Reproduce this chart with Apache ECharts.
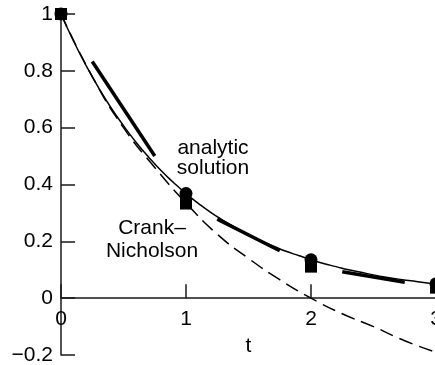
<!DOCTYPE html>
<html>
<head>
<meta charset="utf-8">
<script src="https://cdn.jsdelivr.net/npm/echarts@6/dist/echarts.min.js"></script>
<style>
  html, body { margin: 0; padding: 0; background: #fff; }
  #chart { width: 435px; height: 365px; }
</style>
</head>
<body>
<div id="chart"></div>
<script>
// Analytic solution y = e^-t, sampled along t
var analyticT = [0, 0.1, 0.2, 0.3, 0.4, 0.5, 0.6, 0.7, 0.8, 0.9, 1.0, 1.1, 1.2, 1.3, 1.4, 1.5,
                 1.6, 1.7, 1.8, 1.9, 2.0, 2.1, 2.2, 2.3, 2.4, 2.5, 2.6, 2.7, 2.8, 2.9, 3.0];
var analyticY = [1, 0.905, 0.819, 0.741, 0.670, 0.607, 0.549, 0.497, 0.449, 0.407, 0.368, 0.333,
                 0.301, 0.273, 0.247, 0.223, 0.202, 0.183, 0.165, 0.150, 0.135, 0.122, 0.111,
                 0.100, 0.091, 0.082, 0.074, 0.067, 0.061, 0.055, 0.050];

// Dashed comparison curve
var dashedT = [0, 0.25, 0.5, 0.75, 1.0, 1.25, 1.5, 1.75, 2.0, 2.25, 2.5, 2.75, 3.0];
var dashedY = [1, 0.78, 0.60, 0.46, 0.335, 0.225, 0.14, 0.065, 0, -0.055, -0.10, -0.15, -0.19];

// Step points
var stepT = [0, 1, 2, 3];
var analyticPts = [1, 0.368, 0.135, 0.050];
var crankPts = [1, 0.333, 0.111, 0.037];

// Crank–Nicholson slope segments (start t, start y, end t, end y)
var segStartT = [0.25, 1.25, 2.25];
var segStartY = [0.833, 0.278, 0.093];
var segEndT = [0.75, 1.75, 2.75];
var segEndY = [0.5, 0.167, 0.056];

// Axis ticks
var xTicks = [0, 1, 2, 3];
var yTicks = [-0.2, 0, 0.2, 0.4, 0.6, 0.8, 1];

var FONT = 'Liberation Sans, Arial, Helvetica, sans-serif';
var INK = '#000';
var AXIS = '#1a1a1a';

var GRID_TOP = 14, GRID_H = 341;
var yMin = yTicks[0], yMax = yTicks[yTicks.length - 1];
// lift the t axis from the grid bottom up to y = 0
var xAxisOffset = -GRID_H * (0 - yMin) / (yMax - yMin);

function zip(a, b) {
  return a.map(function (v, i) { return [v, b[i]]; });
}

var series = [
  {
    type: 'line', data: zip(analyticT, analyticY), smooth: true, symbol: 'none',
    lineStyle: { color: INK, width: 1.5 }, z: 3
  },
  {
    type: 'line', data: zip(dashedT, dashedY), smooth: true, symbol: 'none',
    lineStyle: { color: INK, width: 1.5, type: [14, 7] }, z: 3
  }
];

segStartT.forEach(function (t0, i) {
  series.push({
    type: 'line', symbol: 'none',
    data: [[t0, segStartY[i]], [segEndT[i], segEndY[i]]],
    lineStyle: { color: INK, width: 3.5 }, z: 4
  });
});

series.push({
  type: 'scatter', data: zip(stepT, analyticPts), symbol: 'circle', symbolSize: 13,
  itemStyle: { color: INK, opacity: 1 }, z: 5, clip: false
});
series.push({
  type: 'scatter', data: zip(stepT, crankPts), symbol: 'rect', symbolSize: 12,
  itemStyle: { color: INK, opacity: 1 }, z: 6, clip: false
});

var chart = echarts.init(document.getElementById('chart'), null, { renderer: 'canvas' });
chart.setOption({
  animation: false,
  backgroundColor: '#fff',
  grid: { left: 61, top: GRID_TOP, width: 375, height: GRID_H, containLabel: false, outerBoundsMode: 'none' },
  xAxis: {
    type: 'value', min: xTicks[0], max: xTicks[xTicks.length - 1], interval: 1,
    position: 'bottom', offset: xAxisOffset,
    name: 't', nameLocation: 'middle', nameGap: 38,
    nameTextStyle: { color: INK, fontSize: 21, fontFamily: FONT },
    axisLine: { onZero: false, lineStyle: { color: AXIS, width: 1.5 } },
    axisTick: { inside: true, length: 14, lineStyle: { color: AXIS, width: 1.5 } },
    axisLabel: { color: INK, fontSize: 21, fontFamily: FONT, margin: 11, showMaxLabel: true },
    splitLine: { show: false }
  },
  yAxis: {
    type: 'value', min: yMin, max: yMax, interval: 0.2,
    axisLine: { show: true, onZero: false, lineStyle: { color: AXIS, width: 1.5 } },
    axisTick: { show: true, inside: true, length: 14, lineStyle: { color: AXIS, width: 1.5 } },
    axisLabel: {
      color: INK, fontSize: 21, fontFamily: FONT, margin: 8,
      formatter: function (v) {
        var r = +v.toFixed(1);
        return r < 0 ? '\u2212' + Math.abs(r) : String(r);
      }
    },
    splitLine: { show: false }
  },
  graphic: [
    {
      type: 'text', x: 213, y: 158,
      style: {
        text: 'analytic\nsolution', fill: INK, font: '21px ' + FONT,
        textAlign: 'center', textVerticalAlign: 'middle', lineHeight: 20
      }, z: 10
    },
    {
      type: 'text', x: 152, y: 240,
      style: {
        text: 'Crank\u2013\nNicholson', fill: INK, font: '21px ' + FONT,
        textAlign: 'center', textVerticalAlign: 'middle', lineHeight: 23
      }, z: 10
    }
  ],
  series: series
});
</script>
</body>
</html>
